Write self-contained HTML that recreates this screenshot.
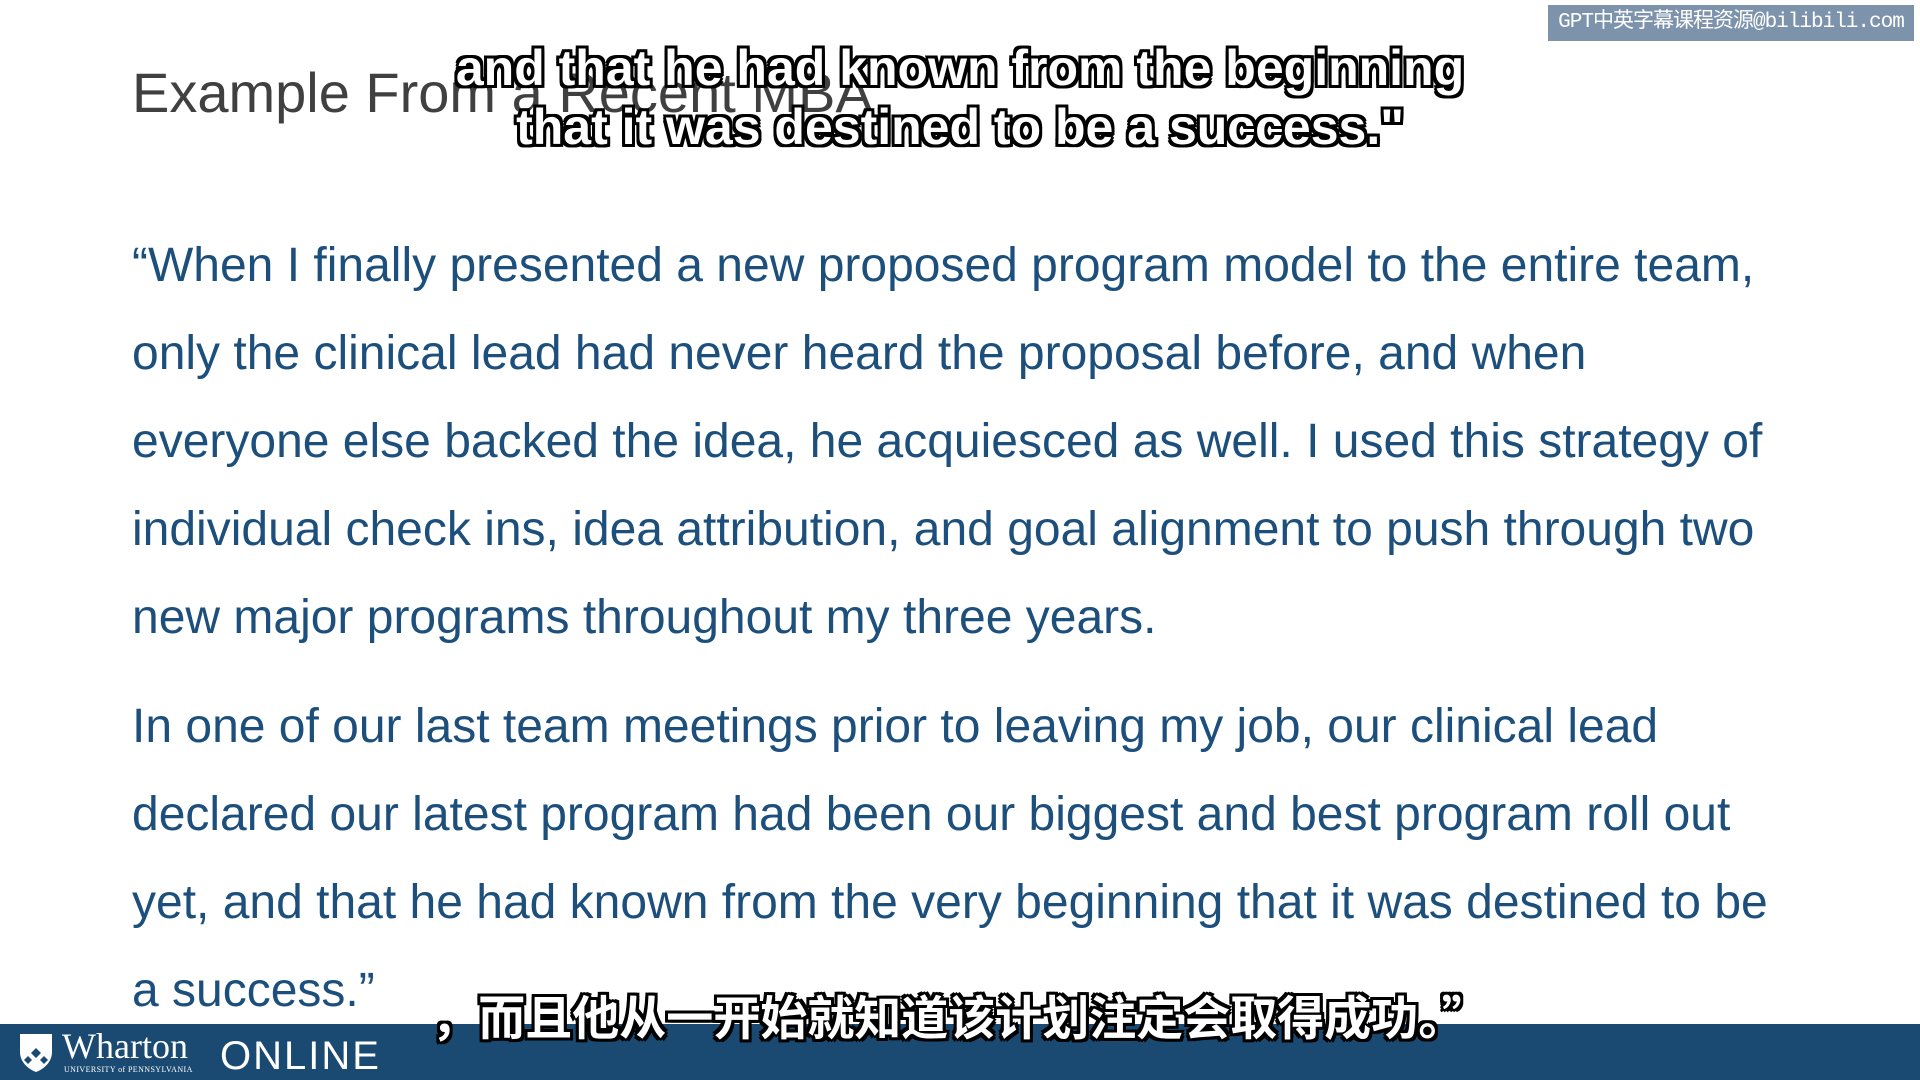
<!DOCTYPE html>
<html><head><meta charset="utf-8">
<style>
html,body{margin:0;padding:0;}
body{width:1920px;height:1080px;position:relative;overflow:hidden;background:#fff;font-family:"Liberation Sans","Noto Sans CJK SC",sans-serif;}
.l{position:absolute;left:132px;font-size:48px;line-height:48px;color:#1d4f7c;white-space:nowrap;}
.sub{position:absolute;left:0;width:1920px;text-align:center;color:#fff;font-weight:bold;white-space:nowrap;
 text-shadow:-3px -3px 0 #000,3px -3px 0 #000,-3px 3px 0 #000,3px 3px 0 #000,0 3px 0 #000,0 -3px 0 #000,3px 0 0 #000,-3px 0 0 #000;}
</style></head><body>
<div style="position:absolute;left:1548px;top:5px;width:366px;height:36px;background:#7d93ab;color:#fff;font-size:21px;line-height:36px;text-align:center;font-family:'Liberation Mono','Noto Sans CJK SC',monospace;letter-spacing:-1px;">GPT中英字幕课程资源@bilibili.com</div>
<div style="position:absolute;left:132px;top:65px;font-size:56px;line-height:56px;color:#404040;">Example From a Recent MBA</div>
<div class="l" style="top:242px">“When I finally presented a new proposed program model to the entire team,</div>
<div class="l" style="top:330px">only the clinical lead had never heard the proposal before, and when</div>
<div class="l" style="top:418px">everyone else backed the idea, he acquiesced as well. I used this strategy of</div>
<div class="l" style="top:506px">individual check ins, idea attribution, and goal alignment to push through two</div>
<div class="l" style="top:594px">new major programs throughout my three years.</div>
<div class="l" style="top:703px">In one of our last team meetings prior to leaving my job, our clinical lead</div>
<div class="l" style="top:791px">declared our latest program had been our biggest and best program roll out</div>
<div class="l" style="top:879px">yet, and that he had known from the very beginning that it was destined to be</div>
<div class="l" style="top:967px">a success.”</div>
<div style="position:absolute;left:0;top:1024px;width:1920px;height:56px;background:#1a4a72;">
 <svg style="position:absolute;left:18px;top:8px" width="36" height="42" viewBox="0 0 36 42"><path d="M2 2h32v18c0 10-8 17-16 20C10 37 2 30 2 20z" fill="#fff"/><path d="M18 16l5 5-5 5-5-5zM10 24l4 4-4 4-4-4zM26 24l4 4-4 4-4-4z" fill="#1a4a72"/></svg>
 <div style="position:absolute;left:62px;top:2px;font-family:'Liberation Serif',serif;color:#fff;font-size:36px;line-height:40px;">Wharton</div>
 <div style="position:absolute;left:64px;top:41px;font-family:'Liberation Serif',serif;color:#fff;font-size:8px;letter-spacing:0.4px;">UNIVERSITY of PENNSYLVANIA</div>
 <div style="position:absolute;left:220px;top:12px;color:#fff;font-size:40px;line-height:40px;letter-spacing:2px;">ONLINE</div>
</div>
<div class="sub" style="top:39px;font-size:50px;line-height:59px;">and that he had known from the beginning<br>that it was destined to be a success."</div>
<div class="sub" style="top:987px;font-size:47px;line-height:56px;font-family:'Noto Sans CJK SC',sans-serif;">，而且他从一开始就知道该计划注定会取得成功。”</div>
</body></html>
